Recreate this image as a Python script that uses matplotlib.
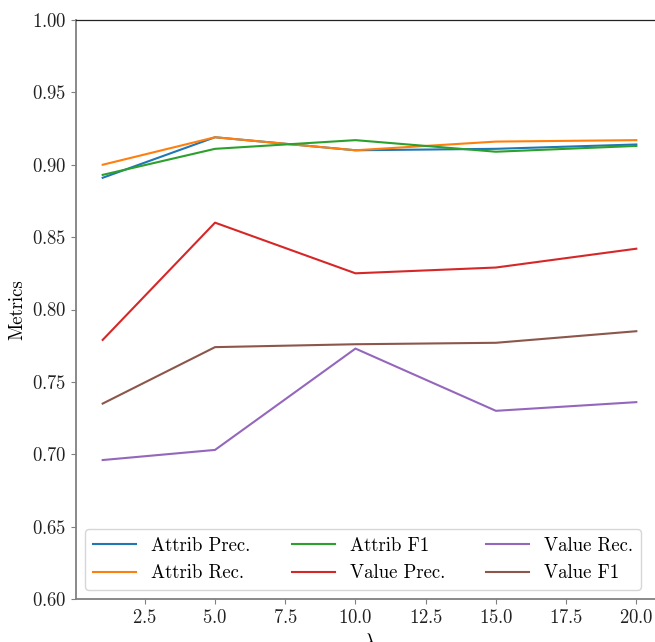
import matplotlib
matplotlib.use("Agg")
import matplotlib.pyplot as plt

plt.rcParams['font.family'] = ['cmr10', 'DejaVu Serif']
plt.rcParams['mathtext.fontset'] = 'cm'
plt.rcParams['axes.formatter.use_mathtext'] = True

lambdas = [1, 5, 10, 15, 20]
attrib_prec = [0.891, 0.919, 0.910, 0.911, 0.914]
attrib_rec = [0.900, 0.919, 0.910, 0.916, 0.917]
attrib_f1 = [0.893, 0.911, 0.917, 0.909, 0.913]
value_prec = [0.779, 0.860, 0.825, 0.829, 0.842]
value_rec = [0.696, 0.703, 0.773, 0.730, 0.736]
value_f1 = [0.735, 0.774, 0.776, 0.777, 0.785]

series = [
    ("Attrib Prec.", attrib_prec, "#1f77b4"),
    ("Attrib Rec.", attrib_rec, "#ff7f0e"),
    ("Attrib F1", attrib_f1, "#2ca02c"),
    ("Value Prec.", value_prec, "#d62728"),
    ("Value Rec.", value_rec, "#9467bd"),
    ("Value F1", value_f1, "#8c564b"),
]

W, H = 655, 642
fig = plt.figure(figsize=(W / 100, H / 100), dpi=100)
left = 76 / W
right = 663 / W
bottom = (H - 599) / H
top = (H - 20) / H
ax = fig.add_axes([left, bottom, right - left, top - bottom])

for name, vals, col in series:
    ax.plot(lambdas, vals, color=col, lw=1.5, label=name)

ax.set_ylim(0.60, 1.00)
ax.set_xlabel(r'$\lambda$', fontsize=14)
ax.set_ylabel('Metrics', fontsize=13.5)
ax.tick_params(labelsize=13.5, color='#808080', labelcolor='#222222')
for s in ['left', 'bottom']:
    ax.spines[s].set_color('#808080')
    ax.spines[s].set_linewidth(1.3)
for s in ['top', 'right']:
    ax.spines[s].set_color('#222222')
    ax.spines[s].set_linewidth(0.9)

ax.legend(loc='lower left', ncol=3, fontsize=13.5, frameon=True,
          handlelength=2.3, columnspacing=2.2)

fig.savefig('out.png', dpi=100)
